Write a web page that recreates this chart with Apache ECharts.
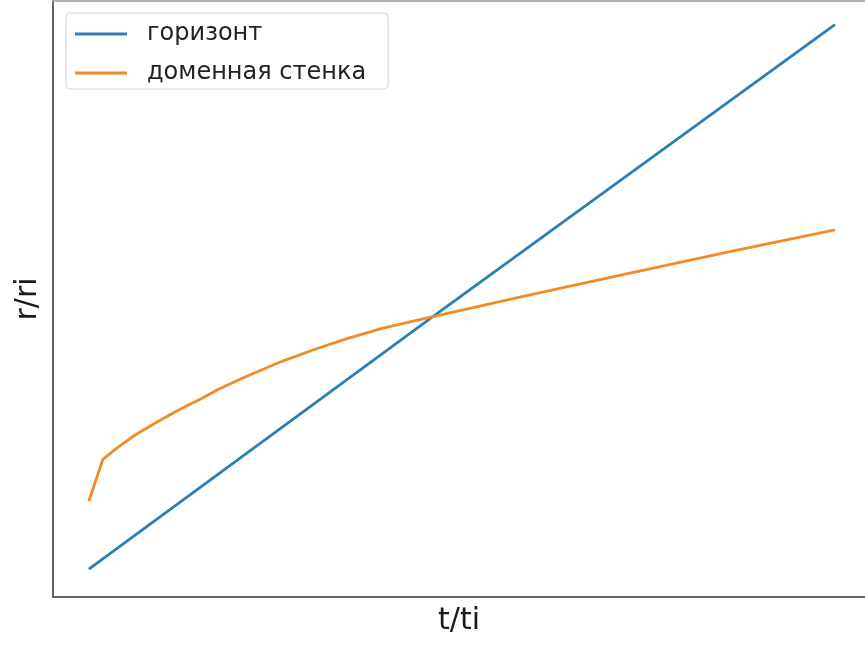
<!DOCTYPE html>
<html>
<head>
<meta charset="utf-8">
<script src="https://cdn.jsdelivr.net/npm/echarts@6/dist/echarts.min.js"></script>
<style>
html,body{margin:0;padding:0;background:#fff;}
#chart{width:865px;height:645px;}
</style>
</head>
<body>
<div id="chart"></div>
<script>
// Data (t/ti, r/ri)
var horizonT = [0.040, 1.000, 2.122];
var horizonR = [0.040, 1.000, 2.110];
var wallT = [0.040, 0.079, 0.121, 0.168, 0.216, 0.260, 0.308, 0.355, 0.400, 0.484, 0.579, 0.671, 0.763, 0.858, 1.000, 1.271, 1.550, 1.829, 2.122];
var wallR = [0.298, 0.457, 0.503, 0.549, 0.588, 0.622, 0.657, 0.689, 0.723, 0.775, 0.830, 0.876, 0.917, 0.955, 1.000, 1.083, 1.165, 1.247, 1.330];
var seriesNames = ['горизонт', 'доменная стенка'];
var xName = 't/ti';
var yName = 'r/ri';

function pairs(a, b) { return a.map(function (v, i) { return [v, b[i]]; }); }

var chart = echarts.init(document.getElementById('chart'), null, {renderer: 'canvas'});
chart.setOption({
  animation: false,
  backgroundColor: '#ffffff',
  grid: {left: 53, top: 1, right: 0, bottom: 48},
  xAxis: [{
    type: 'value', min: -0.06, max: 2.206, position: 'bottom',
    name: xName, nameLocation: 'middle', nameGap: 9,
    nameTextStyle: {fontFamily: 'DejaVu Sans', fontSize: 30, color: '#1a1a1a', verticalAlign: 'top'},
    axisLine: {show: true, onZero: false, lineStyle: {color: '#333', width: 1.5}},
    axisTick: {show: false}, axisLabel: {show: false}, splitLine: {show: false}
  }, {
    type: 'value', min: -0.06, max: 2.206, position: 'top',
    axisLine: {show: true, onZero: false, lineStyle: {color: '#999', width: 1.5}},
    axisTick: {show: false}, axisLabel: {show: false}, splitLine: {show: false}
  }],
  yAxis: {
    type: 'value', min: -0.066, max: 2.2,
    name: yName, nameLocation: 'middle', nameGap: 10,
    nameTextStyle: {fontFamily: 'DejaVu Sans', fontSize: 30, color: '#1a1a1a'},
    axisLine: {show: true, onZero: false, lineStyle: {color: '#333', width: 1.5}},
    axisTick: {show: false}, axisLabel: {show: false}, splitLine: {show: false}
  },
  legend: {
    orient: 'vertical', left: 66, top: 13,
    padding: [7, 22, 2, 9],
    itemGap: 11,
    itemWidth: 52, itemHeight: 3,
    icon: 'rect',
    borderColor: '#d4d4d4', borderWidth: 1, borderRadius: 4,
    backgroundColor: 'rgba(255,255,255,0.8)',
    textStyle: {fontFamily: 'DejaVu Sans', fontSize: 24, color: '#222', lineHeight: 28, padding: [0, 0, 0, 15]},
    data: seriesNames
  },
  series: [
    {name: seriesNames[0], type: 'line', data: pairs(horizonT, horizonR), showSymbol: false, symbol: 'none',
     color: '#2f7db5', lineStyle: {color: '#2f7db5', width: 2.8}},
    {name: seriesNames[1], type: 'line', data: pairs(wallT, wallR), showSymbol: false, symbol: 'none',
     color: '#f28a26', lineStyle: {color: '#f28a26', width: 2.8}}
  ]
});
</script>
</body>
</html>
